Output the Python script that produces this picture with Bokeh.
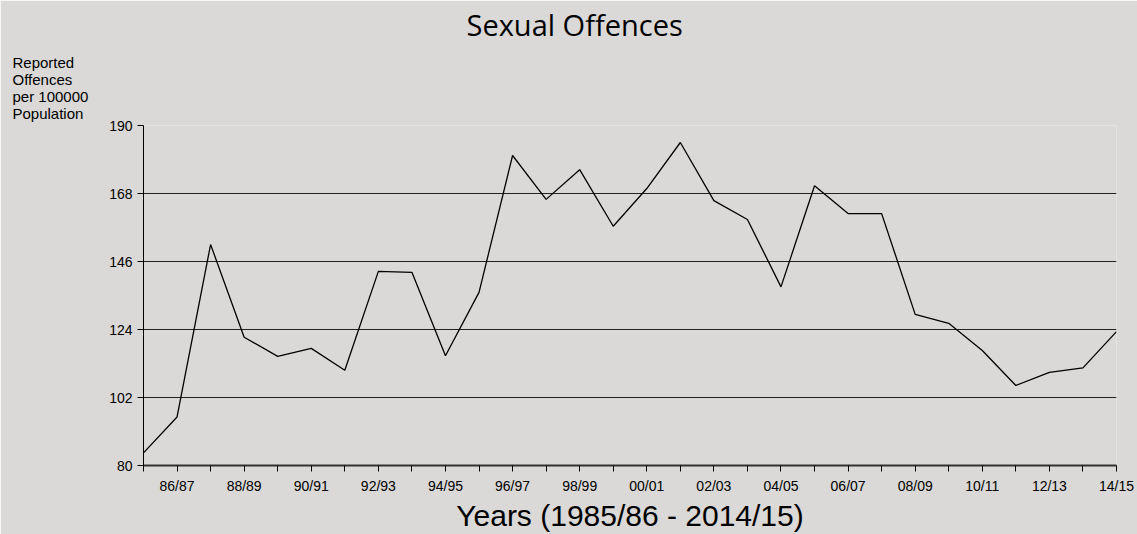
from bokeh.plotting import figure
from bokeh.models import Range1d, FixedTicker, Title
from bokeh.embed import file_html
from bokeh.resources import INLINE

years = ["85/86", "86/87", "87/88", "88/89", "89/90", "90/91", "91/92", "92/93",
         "93/94", "94/95", "95/96", "96/97", "97/98", "98/99", "99/00", "00/01",
         "01/02", "02/03", "03/04", "04/05", "05/06", "06/07", "07/08", "08/09",
         "09/10", "10/11", "11/12", "12/13", "13/14", "14/15"]
offences = [84.1, 95.7, 151.5, 121.5, 115.3, 117.9, 110.8, 142.8, 142.5, 115.5,
            136.0, 180.3, 166.1, 175.7, 157.4, 169.6, 184.5, 165.7, 159.6, 137.8,
            170.5, 161.5, 161.5, 128.9, 126.0, 117.2, 105.9, 110.1, 111.6, 123.3]
y_ticks = [80, 102, 124, 146, 168, 190]
title_text = "Sexual Offences"
x_title = "Years (1985/86 - 2014/15)"
y_title_lines = ["Reported", "Offences", "per 100000", "Population"]

BG = "#dad9d7"
FONT = "Liberation Sans"

xs = list(range(len(years)))

p = figure(width=1137, height=534, output_backend="svg", toolbar_location=None,
           x_range=Range1d(0, len(years) - 1), y_range=Range1d(80, 190),
           min_border_left=143, min_border_right=21, min_border_top=125,
           min_border_bottom=68)
p.background_fill_color = BG
p.border_fill_color = BG
p.outline_line_color = None

p.line(xs, offences, line_color="black", line_width=1.3)

# x axis
p.xaxis.ticker = FixedTicker(ticks=xs)
p.xaxis.major_label_overrides = {i: (years[i] if i % 2 == 1 else "") for i in xs}
p.xaxis.major_tick_in = 0
p.xaxis.major_tick_out = 6
p.xaxis.minor_tick_line_color = None
p.xaxis.axis_line_color = "#333333"
p.xaxis.axis_line_width = 2
p.xaxis.major_tick_line_color = "black"
p.xaxis.major_label_text_font = FONT
p.xaxis.major_label_text_font_size = "14px"
p.xaxis.major_label_text_color = "black"
p.xaxis.major_label_standoff = 6
p.xaxis.axis_label = x_title
p.xaxis.axis_label_text_font = FONT
p.xaxis.axis_label_text_font_size = "30px"
p.xaxis.axis_label_text_font_style = "normal"
p.xaxis.axis_label_text_color = "black"
p.xaxis.axis_label_standoff = 2

# y axis
p.yaxis.ticker = FixedTicker(ticks=y_ticks)
p.yaxis.major_tick_in = 0
p.yaxis.major_tick_out = 6
p.yaxis.minor_tick_line_color = None
p.yaxis.axis_line_color = "black"
p.yaxis.major_tick_line_color = "black"
p.yaxis.major_label_text_font = FONT
p.yaxis.major_label_text_font_size = "14px"
p.yaxis.major_label_text_color = "black"
p.yaxis.major_label_standoff = 5

p.xgrid.grid_line_color = None
p.ygrid.ticker = FixedTicker(ticks=y_ticks)
p.ygrid.grid_line_color = "#222222"
p.ygrid.grid_line_width = 1

# y axis title (stacked lines) above the frame, at the far left
p.add_layout(Title(text="\n".join(y_title_lines), align="left", offset=-131,
                   standoff=7, text_font=FONT, text_font_size="15px",
                   text_line_height=1.0, text_font_style="normal",
                   text_color="black"), "above")

# main title
p.add_layout(Title(text=title_text, align="left", offset=323, standoff=6,
                   vertical_align="top",
                   text_font="Open Sans", text_font_size="29px",
                   text_font_style="normal", text_color="black"), "above")

open("out.html", "w").write(file_html(p, INLINE))
